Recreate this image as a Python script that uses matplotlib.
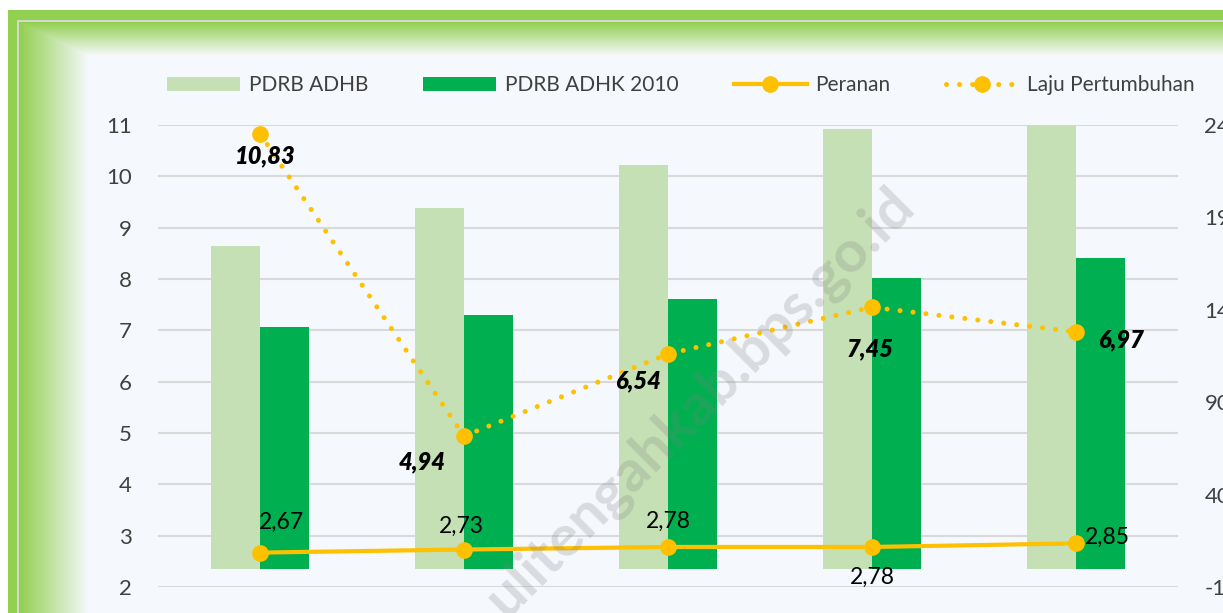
import numpy as np
import matplotlib
matplotlib.use("Agg")
import matplotlib.pyplot as plt
from matplotlib.patches import Patch
from matplotlib.lines import Line2D

plt.rcParams['font.family'] = ['Lato', 'DejaVu Sans']

# ---------------- data ----------------
categories = ["2015", "2016", "2017", "2018", "2019"]
pdrb_adhb = [174.3, 195.3, 218.4, 238.0, 250.0]
pdrb_adhk = [130.7, 137.2, 145.8, 157.2, 167.9]
peranan = [2.67, 2.73, 2.78, 2.78, 2.85]
laju = [10.83, 4.94, 6.54, 7.45, 6.97]
left_ticks = [2, 3, 4, 5, 6, 7, 8, 9, 10, 11]
right_ticks = [-10, 40, 90, 140, 190, 240]
legend_labels = ["PDRB ADHB", "PDRB ADHK 2010", "Peranan", "Laju Pertumbuhan"]

# label offsets (pixels) relative to points
laju_offsets = [(5, -22), (-42, -26), (-30, -27), (-2, -42), (45, -8)]
peranan_offsets = [(21, 30), (-3, 23), (0, 26), (0, -30), (31, 6)]

W, H = 1223, 613
DPI = 100
LIGHT = "#C5E0B4"
DARK = "#00B050"
GOLD = "#FFC000"
BG = np.array([0xF5, 0xF8, 0xFC]) / 255
GREEN = np.array([0x92, 0xD0, 0x50]) / 255
TXT = "#404040"

fig = plt.figure(figsize=(W / DPI, H / DPI), dpi=DPI)

# ---------------- frame background ----------------
bg_ax = fig.add_axes([0, 0, 1, 1], zorder=-10)
bg_ax.set_axis_off()
xx, yy = np.meshgrid(np.arange(W), np.arange(H))
fl = np.clip((xx - 19) / 69.0, 0, 1)
ft = np.clip((yy - 22) / 33.0, 0, 1)
f = np.minimum(fl, ft)[..., None]
img = GREEN * (1 - f) + BG * f
gray = np.array([0.84, 0.84, 0.84])
solid = ((xx >= 8) & (xx < 17) & (yy >= 10)) | ((yy >= 10) & (yy < 20) & (xx >= 8))
grayline = (((xx >= 17) & (xx < 19) & (yy >= 20)) | ((yy >= 20) & (yy < 22) & (xx >= 17))) & ~solid
img[grayline] = gray
img[solid] = GREEN
white = (xx < 8) | (yy < 10)
img[white] = 1.0
bg_ax.imshow(img, extent=(0, W, H, 0), aspect='auto', interpolation='nearest')
bg_ax.set_xlim(0, W)
bg_ax.set_ylim(H, 0)

# ---------------- axes ----------------
left_px, right_px, top_px, bot_px = 158, 1178, 125, 587
pos = [left_px / W, 1 - bot_px / H, (right_px - left_px) / W, (bot_px - top_px) / H]

ax = fig.add_axes(pos)
ax.set_facecolor('none')
ax_bar = ax.twinx()
ax_line = ax.twinx()
for a in (ax, ax_bar, ax_line):
    a.patch.set_visible(False)
    for s in a.spines.values():
        s.set_visible(False)
    a.tick_params(length=0)
    a.set_xticks([])

x = np.arange(len(categories))
ax.set_xlim(-0.5, len(categories) - 0.5)
ax.set_ylim(2, 11)
ax.set_yticks(left_ticks)
ax.set_yticklabels([str(t) for t in left_ticks])
ax.tick_params(axis='y', labelsize=16, labelcolor=TXT, pad=19)
ax.grid(axis='y', color='#D9D9D9', linewidth=1.5)
ax.set_axisbelow(True)

bw = 0.238
ax_bar.set_ylim(-10, 240)
ax_bar.set_yticks(right_ticks)
ax_bar.set_yticklabels([f"{t}.000" for t in right_ticks])
ax_bar.tick_params(axis='y', labelsize=16, labelcolor=TXT, pad=19)
ax_bar.bar(x - bw / 2, pdrb_adhb, width=bw, color=LIGHT, zorder=2)
ax_bar.bar(x + bw / 2, pdrb_adhk, width=bw, color=DARK, zorder=2)
ax_bar.set_xlim(-0.5, len(categories) - 0.5)

ax_line.set_ylim(2, 11)
ax_line.set_yticks([])
ax_line.set_xlim(-0.5, len(categories) - 0.5)
ax_line.plot(x, peranan, color=GOLD, linewidth=3, marker='o', markersize=11,
             solid_capstyle='round', zorder=3, clip_on=False)
ax_line.plot(x, laju, color=GOLD, linewidth=3.6, linestyle=(0, (0.01, 2.6)),
             dash_capstyle='round', marker='o', markersize=11, zorder=3, clip_on=False)

for xi, v, (dx, dy) in zip(x, laju, laju_offsets):
    ax_line.annotate(f"{v:.2f}".replace('.', ','), (xi, v), xytext=(dx * 0.72, dy * 0.72),
                     textcoords='offset points', ha='center', va='center',
                     fontsize=17, fontweight='heavy', fontstyle='italic', color='black', zorder=5)
for xi, v, (dx, dy) in zip(x, peranan, peranan_offsets):
    ax_line.annotate(f"{v:.2f}".replace('.', ','), (xi, v), xytext=(dx * 0.72, dy * 0.72),
                     textcoords='offset points', ha='center', va='center',
                     fontsize=16.5, color='black', zorder=5)

# ---------------- legend ----------------
handles = [
    Patch(facecolor=LIGHT, edgecolor='none'),
    Patch(facecolor=DARK, edgecolor='none'),
    Line2D([], [], color=GOLD, linewidth=3, marker='o', markersize=11),
    Line2D([], [], color=GOLD, linewidth=3.6, linestyle=(0, (0.01, 2.6)),
           dash_capstyle='round', marker='o', markersize=11),
]
leg = fig.legend(handles, legend_labels, ncol=4, loc='center left',
                 bbox_to_anchor=(167 / W, 1 - 85 / H), frameon=False,
                 fontsize=15, handlelength=3.5, handletextpad=0.42,
                 columnspacing=2.65, borderpad=0, borderaxespad=0,
                 handleheight=0.65, labelcolor=TXT)

# ---------------- watermark ----------------
fig.text(700 / W, 1 - 402 / H, "ulitengahkab.bps.go.id", rotation=45,
         rotation_mode='anchor', ha='center', va='center', fontsize=42,
         fontweight='bold', color='#7F7F7F', alpha=0.24, zorder=10)

fig.savefig("out.png", dpi=DPI)
